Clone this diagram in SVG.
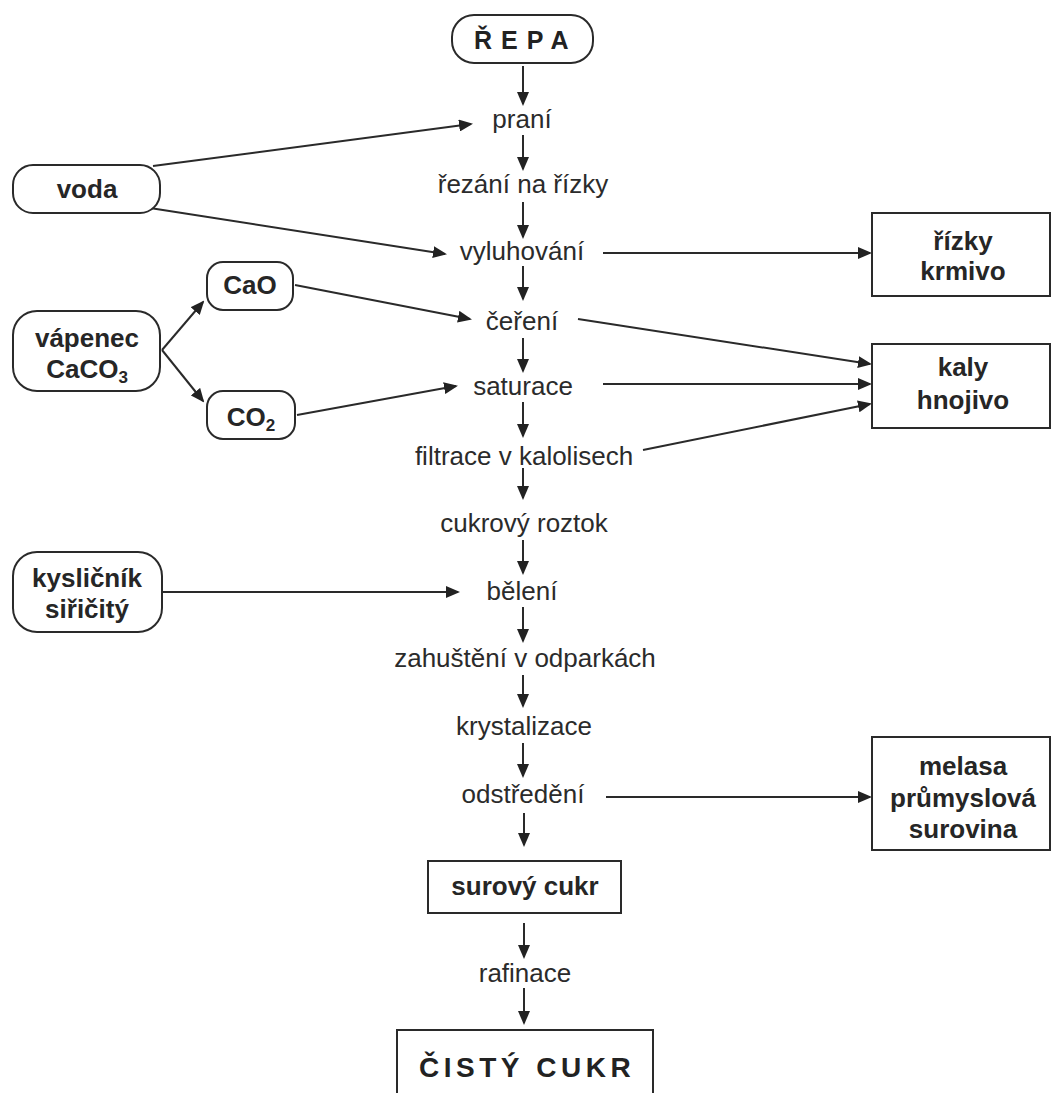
<svg xmlns="http://www.w3.org/2000/svg" width="1055" height="1093" viewBox="0 0 1055 1093">
  <style>
    .box { fill: #ffffff; stroke: #2a2a2a; stroke-width: 2; }
    .step { font-family: "Liberation Sans", Arial, sans-serif; font-size: 26px; fill: #2b2b2b; text-anchor: middle; }
    .lbl { font-family: "Liberation Sans", Arial, sans-serif; font-size: 26px; font-weight: bold; fill: #262626; text-anchor: middle; }
    .big { font-family: "Liberation Sans", Arial, sans-serif; font-weight: bold; fill: #222222; }
    .edge { stroke: #2a2a2a; stroke-width: 2; fill: none; marker-end: url(#arrow); }
  </style>
  <defs>
    <marker id="arrow" viewBox="0 0 14 12" markerWidth="14" markerHeight="12" refX="12" refY="6" orient="auto" markerUnits="userSpaceOnUse">
      <path d="M0,0 L14,6 L0,12 Z" fill="#222222"/>
    </marker>
  </defs>
  <rect width="1055" height="1093" fill="#ffffff"/>

  <!-- connectors -->
  <g id="connectors">
    <!-- main process column -->
    <line class="edge" x1="523" y1="66" x2="523" y2="104"/>
    <line class="edge" x1="523" y1="135" x2="523" y2="169"/>
    <line class="edge" x1="523" y1="202" x2="523" y2="237"/>
    <line class="edge" x1="523" y1="266" x2="523" y2="299"/>
    <line class="edge" x1="523" y1="338" x2="523" y2="371"/>
    <line class="edge" x1="523" y1="402" x2="523" y2="436"/>
    <line class="edge" x1="523" y1="468" x2="523" y2="498"/>
    <line class="edge" x1="523" y1="540" x2="523" y2="573"/>
    <line class="edge" x1="523" y1="607" x2="523" y2="641"/>
    <line class="edge" x1="523" y1="675" x2="523" y2="706"/>
    <line class="edge" x1="523" y1="743" x2="523" y2="776"/>
    <line class="edge" x1="524" y1="813" x2="524" y2="845"/>
    <line class="edge" x1="524" y1="923" x2="524" y2="957"/>
    <line class="edge" x1="524" y1="988" x2="524" y2="1023"/>
    <!-- inputs -->
    <line class="edge" x1="153" y1="166" x2="471" y2="124"/>
    <line class="edge" x1="150" y1="208" x2="445" y2="254"/>
    <line class="edge" x1="162" y1="350" x2="203" y2="302"/>
    <line class="edge" x1="162" y1="350" x2="203" y2="401"/>
    <line class="edge" x1="295" y1="285" x2="470" y2="319"/>
    <line class="edge" x1="297" y1="415" x2="456" y2="386"/>
    <line class="edge" x1="162" y1="592" x2="458" y2="592"/>
    <!-- by-products -->
    <line class="edge" x1="603" y1="253" x2="870" y2="253"/>
    <line class="edge" x1="578" y1="319" x2="870" y2="364"/>
    <line class="edge" x1="603" y1="384" x2="870" y2="384"/>
    <line class="edge" x1="643" y1="450" x2="870" y2="404"/>
    <line class="edge" x1="606" y1="797" x2="870" y2="797"/>
  </g>

  <!-- start node -->
  <g id="repa">
    <rect class="box" x="452" y="15" width="141" height="48" rx="22"/>
    <text class="big" x="474" y="49" font-size="25" letter-spacing="9">ŘEPA</text>
  </g>

  <!-- process steps -->
  <g id="prani"><text class="step" x="522" y="128">praní</text></g>
  <g id="rezani"><text class="step" x="523" y="193">řezání na řízky</text></g>
  <g id="vyluhovani"><text class="step" x="522" y="260">vyluhování</text></g>
  <g id="cereni"><text class="step" x="522" y="330">čeření</text></g>
  <g id="saturace"><text class="step" x="523" y="395">saturace</text></g>
  <g id="filtrace"><text class="step" x="524" y="465">filtrace v kalolisech</text></g>
  <g id="roztok"><text class="step" x="524" y="532">cukrový roztok</text></g>
  <g id="beleni"><text class="step" x="522" y="600">bělení</text></g>
  <g id="zahusteni"><text class="step" x="525" y="667">zahuštění v odparkách</text></g>
  <g id="krystalizace"><text class="step" x="524" y="735">krystalizace</text></g>
  <g id="odstredeni"><text class="step" x="523" y="803">odstředění</text></g>
  <g id="rafinace"><text class="step" x="525" y="982">rafinace</text></g>

  <!-- inputs -->
  <g id="voda">
    <rect class="box" x="13" y="165" width="147" height="48" rx="20"/>
    <text class="lbl" x="87" y="198">voda</text>
  </g>
  <g id="vapenec">
    <rect class="box" x="13" y="311" width="147" height="80" rx="24"/>
    <text class="lbl" x="87" y="347">vápenec</text>
    <text class="lbl" x="87" y="378">CaCO<tspan font-size="17" dy="5">3</tspan></text>
  </g>
  <g id="cao">
    <rect class="box" x="207" y="262" width="86" height="48" rx="16"/>
    <text class="lbl" x="250" y="294">CaO</text>
  </g>
  <g id="co2">
    <rect class="box" x="207" y="391" width="88" height="48" rx="16"/>
    <text class="lbl" x="251" y="426">CO<tspan font-size="17" dy="5">2</tspan></text>
  </g>
  <g id="kyslicnik">
    <rect class="box" x="13" y="552" width="149" height="80" rx="24"/>
    <text class="lbl" x="87" y="587">kysličník</text>
    <text class="lbl" x="87" y="618">siřičitý</text>
  </g>

  <!-- by-products -->
  <g id="rizky">
    <rect class="box" x="872" y="213" width="178" height="83"/>
    <text class="lbl" x="963" y="250">řízky</text>
    <text class="lbl" x="963" y="280">krmivo</text>
  </g>
  <g id="kaly">
    <rect class="box" x="872" y="344" width="178" height="84"/>
    <text class="lbl" x="963" y="376">kaly</text>
    <text class="lbl" x="963" y="409">hnojivo</text>
  </g>
  <g id="melasa">
    <rect class="box" x="872" y="737" width="178" height="113"/>
    <text class="lbl" x="963" y="775">melasa</text>
    <text class="lbl" x="963" y="807">průmyslová</text>
    <text class="lbl" x="963" y="838">surovina</text>
  </g>

  <!-- products -->
  <g id="surovy-cukr">
    <rect class="box" x="428" y="861" width="193" height="52"/>
    <text class="lbl" x="525" y="895">surový cukr</text>
  </g>
  <g id="cisty-cukr">
    <rect class="box" x="397" y="1030" width="256" height="80"/>
    <text class="big" x="419" y="1077" font-size="28" letter-spacing="4.5">ČISTÝ CUKR</text>
  </g>
</svg>
